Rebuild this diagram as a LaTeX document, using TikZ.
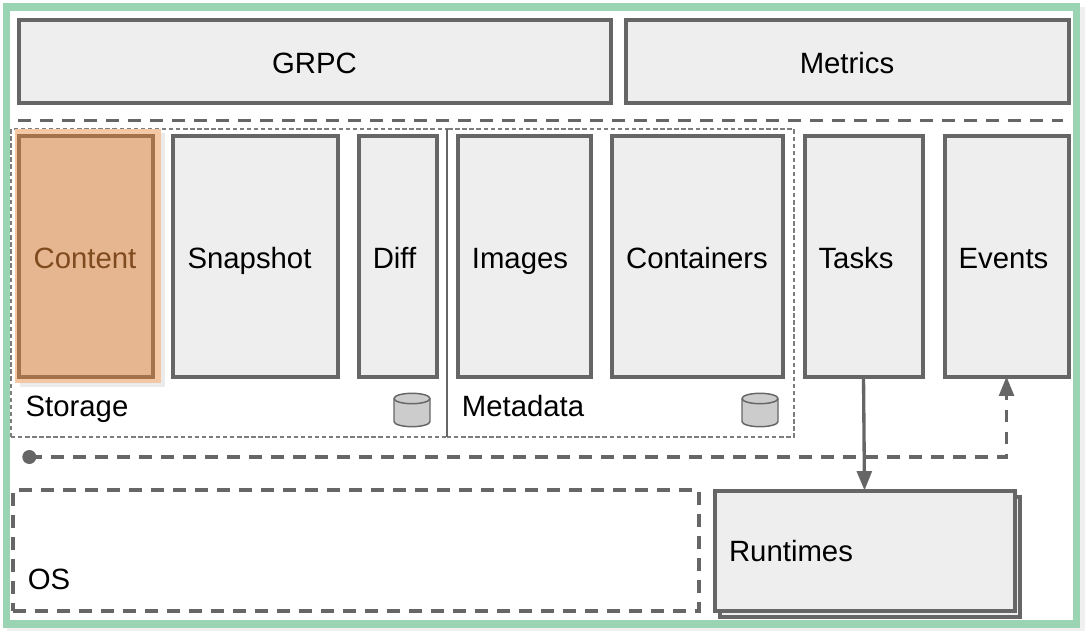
\documentclass[tikz,border=0pt]{standalone}
\usepackage{fontspec}
\setmainfont{Liberation Sans}
\usetikzlibrary{arrows.meta}
\definecolor{frameg}{HTML}{9AD4B2}
\definecolor{boxg}{HTML}{EEEEEE}
\definecolor{lineg}{HTML}{666666}
\definecolor{contentf}{HTML}{E6B690}
\definecolor{contentl}{HTML}{A5734B}
\definecolor{contents}{HTML}{F5C8A5}
\definecolor{contentt}{HTML}{7F4A1E}
% box given by its outer edges: the line lies inside them
\newcommand{\pxbox}[6][boxst]{\node[#1,minimum width=#4*0.75pt-#3*0.75pt-2.25pt,minimum height=#6*0.75pt-#5*0.75pt-2.25pt,anchor=north west] (#2) at (#3+1.5,#5+1.5) {};}
% box given by the centre of its line
\newcommand{\pxrect}[6][thindash]{\node[#1,minimum width=#4*0.75pt-#3*0.75pt,minimum height=#6*0.75pt-#5*0.75pt,anchor=north west] (#2) at (#3,#5) {};}
\tikzset{
  x=0.75pt,y=-0.75pt,
  boxst/.style={draw=lineg,fill=boxg,line width=3pt,inner sep=0pt,outer sep=0pt},
  lbl/.style={font=\fontsize{22}{26}\selectfont,text=black,inner sep=0pt,anchor=base},
  thindash/.style={draw=lineg!85!white,line width=0.9pt,dash pattern=on 3.3pt off 2pt,inner sep=0pt,outer sep=0pt},
  thickdash/.style={draw=lineg,line width=2.4pt,dash pattern=on 9.4pt off 7.1pt,inner sep=0pt,outer sep=0pt},
  conn/.style={draw=lineg,line width=2.5pt,-{Triangle[length=14.5pt,width=11pt]}},
  dbst/.style={draw=lineg,fill=black!20,line width=1.1pt},
}
\begin{document}
\begin{tikzpicture}
\useasboundingbox (0,0) rectangle (1088,634);
\fill[white] (0,0) rectangle (1088,634);
\fill[boxg!85!white] (7,7) rectangle (1085,631);
\pxrect[draw=frameg,fill=white,line width=5.6pt,inner sep=0pt,outer sep=0pt]{frame}{6.5}{1076.5}{7}{624}
\pxbox{grpc}{17}{612}{19}{105}
\pxbox{metrics}{624}{1070}{19}{105}
\node[lbl] (tgrpc) at (314.5,74) {GRPC};
\node[lbl] (tmetrics) at (847,74) {Metrics};
\coordinate (dl) at (18,120.5);
\coordinate (dr) at (1063,120.5);
\draw[thickdash] (dl) -- (dr);
\pxrect{storage}{11}{447}{129}{437}
\pxrect{metadata}{447}{794}{129}{437}
\coordinate (mt) at (447,129);
\coordinate (mb) at (447,437);
\draw[lineg,line width=1pt] (mt) -- (mb);
\fill[black!8] (20,133) rectangle (165,387);
\fill[contents] (15,129) rectangle (161,383);
\pxbox[boxst,draw=contentl,fill=contentf]{content}{17}{154}{135}{378}
\pxbox{snapshot}{171}{339}{135}{378}
\pxbox{diff}{357}{438}{135}{378}
\pxbox{images}{456}{592}{135}{378}
\pxbox{containers}{610}{784}{135}{378}
\pxbox{tasks}{803}{924}{135}{378}
\pxbox{events}{943}{1070}{135}{378}
\node[lbl,text=contentt] (tcontent) at (85,269) {Content};
\node[lbl] (tsnapshot) at (249.5,269) {Snapshot};
\node[lbl] (tdiff) at (394.5,269) {Diff};
\node[lbl] (timages) at (520,269) {Images};
\node[lbl] (tcontainers) at (697,269) {Containers};
\node[lbl] (ttasks) at (856,269) {Tasks};
\node[lbl] (tevents) at (1003.5,269) {Events};
\node[lbl] (tstorage) at (77,416) {Storage};
\node[lbl] (tmetadata) at (523,416) {Metadata};
\foreach \c in {412,760}{
  \begin{scope}[shift={(\c,0)}]
  \draw[dbst] (-18,398.5) -- (-18,421.5) arc[start angle=180,end angle=0,x radius=18,y radius=5.2] -- (18,398.5) arc[start angle=0,end angle=-180,x radius=18,y radius=5.2] -- cycle;
  \draw[dbst,fill=none] (-18,398.5) arc[start angle=180,end angle=0,x radius=18,y radius=5.2];
  \end{scope}
}
\pxrect[thickdash,fill=white]{os}{13}{699}{490}{611}
\node[lbl] (tos) at (49,589) {OS};
\pxbox{runtimesb}{718}{1021}{495}{618}
\pxbox{runtimes}{713}{1016}{489}{612}
\node[lbl] (truntimes) at (791,561) {Runtimes};
\coordinate (dot) at (29.3,457);
\fill[lineg] (dot) circle[radius=7];
\draw[conn] (tasks.south) -- (runtimes.north);
\draw[thickdash,-{Triangle[length=14.5pt,width=11pt,fill=lineg]}] (dot) -| (events.south);
\end{tikzpicture}
\end{document}
